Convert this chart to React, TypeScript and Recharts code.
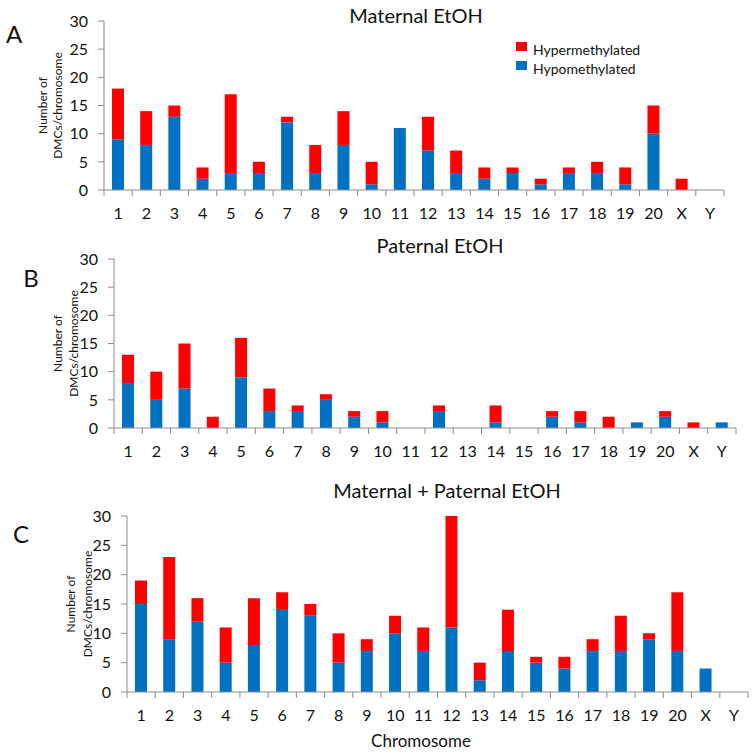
import { BarChart, Bar, XAxis, YAxis } from "recharts";

const chromosomes = ["1", "2", "3", "4", "5", "6", "7", "8", "9", "10", "11", "12", "13", "14", "15", "16", "17", "18", "19", "20", "X", "Y"];

// maternal EtOH
const maternalHypo = [9, 8, 13, 2, 3, 3, 12, 3, 8, 1, 11, 7, 3, 2, 3, 1, 3, 3, 1, 10, 0, 0];
const maternalHyper = [9, 6, 2, 2, 14, 2, 1, 5, 6, 4, 0, 6, 4, 2, 1, 1, 1, 2, 3, 5, 2, 0];

// paternal EtOH
const paternalHypo = [8, 5, 7, 0, 9, 3, 3, 5, 2, 1, 0, 3, 0, 1, 0, 2, 1, 0, 1, 2, 0, 1];
const paternalHyper = [5, 5, 8, 2, 7, 4, 1, 1, 1, 2, 0, 1, 0, 3, 0, 1, 2, 2, 0, 1, 1, 0];

// maternal + paternal EtOH
const bothHypo = [15, 9, 12, 5, 8, 14, 13, 5, 7, 10, 7, 11, 2, 7, 5, 4, 7, 7, 9, 7, 4, 0];
const bothHyper = [4, 14, 4, 6, 8, 3, 2, 5, 2, 3, 4, 19, 3, 7, 1, 2, 2, 6, 1, 10, 0, 0];

const yTicks = [0, 5, 10, 15, 20, 25, 30];

const RED = "#ff0000";
const BLUE = "#0070c0";
const AXIS = "#8c8c8c";
const FONT = "Lato, 'Open Sans', sans-serif";
const X_AXIS_H = 30;

const toRows = (hypo: number[], hyper: number[]) =>
  chromosomes.map((chr, i) => ({ chr, hypo: hypo[i], hyper: hyper[i] }));

function ChromTick(props: any) {
  const { x, y, payload, index, band } = props;
  const last = index === chromosomes.length - 1;
  return (
    <g>
      <line x1={x - band / 2} x2={x - band / 2} y1={y} y2={y + 6} stroke={AXIS} />
      {last && <line x1={x + band / 2} x2={x + band / 2} y1={y} y2={y + 6} stroke={AXIS} />}
      <text x={x} y={y + 29} textAnchor="middle" fontSize={16} fill="#111" fontFamily={FONT}>
        {payload.value}
      </text>
    </g>
  );
}

function LegendBox() {
  const items = [
    { name: "Hypermethylated", color: RED },
    { name: "Hypomethylated", color: BLUE },
  ];
  return (
    <div style={{ position: "absolute", left: 516, top: 40, fontFamily: FONT, fontSize: 14, color: "#111" }}>
      {items.map((it) => (
        <div key={it.name} style={{ display: "flex", alignItems: "center", height: 19 }}>
          <span style={{ display: "inline-block", width: 11, height: 9, background: it.color, marginRight: 6, marginTop: -6 }} />
          <span>{it.name}</span>
        </div>
      ))}
    </div>
  );
}

type PanelProps = {
  top: number;
  height: number;
  axisX: number;
  plotTop: number;
  plotBottom: number;
  right: number;
  labelOffsets: [number, number];
  rows: { chr: string; hypo: number; hyper: number }[];
};

function Panel({ top, height, axisX, plotTop, plotBottom, right, labelOffsets, rows }: PanelProps) {
  const band = (right - axisX) / chromosomes.length;
  const cy = (plotTop + plotBottom) / 2 - top;
  return (
    <div style={{ position: "absolute", left: 0, top }}>
      <BarChart
        width={754}
        height={height}
        data={rows}
        margin={{ top: plotTop - top, right: 754 - right, left: 0, bottom: height - (plotBottom - top) - X_AXIS_H }}
      >
        <XAxis
          dataKey="chr"
          interval={0}
          height={X_AXIS_H}
          tickLine={false}
          tickSize={0}
          tickMargin={0}
          stroke={AXIS}
          tick={(p: any) => <ChromTick {...p} band={band} />}
        />
        <YAxis
          width={axisX}
          domain={[0, 30]}
          ticks={yTicks}
          interval={0}
          tickSize={6}
          tickMargin={10}
          stroke={AXIS}
          tick={{ fontSize: 16, fill: "#111", fontFamily: FONT }}
          label={{
            content: () => (
              <g fontFamily={FONT} fontSize={12} fill="#111">
                <text
                  x={axisX + labelOffsets[0]}
                  y={cy}
                  textAnchor="middle"
                  dominantBaseline="central"
                  transform={`rotate(-90 ${axisX + labelOffsets[0]} ${cy})`}
                >
                  Number of
                </text>
                <text
                  x={axisX + labelOffsets[1]}
                  y={cy}
                  textAnchor="middle"
                  dominantBaseline="central"
                  transform={`rotate(-90 ${axisX + labelOffsets[1]} ${cy})`}
                >
                  DMCs/chromosome
                </text>
              </g>
            ),
          }}
        />
        <Bar dataKey="hypo" name="Hypomethylated" stackId="a" fill={BLUE} barSize={12} isAnimationActive={false} />
        <Bar dataKey="hyper" name="Hypermethylated" stackId="a" fill={RED} barSize={12} isAnimationActive={false} />
      </BarChart>
    </div>
  );
}

const titleStyle = { position: "absolute" as const, fontFamily: FONT, fontSize: 20, color: "#111", transform: "translate(-50%, -50%)", whiteSpace: "nowrap" as const };
const letterStyle = { position: "absolute" as const, fontFamily: FONT, fontSize: 24, color: "#111", transform: "translate(-50%, -50%)" };

export default function App() {
  return (
    <div style={{ position: "absolute", left: 0, top: 0, width: 754, height: 752, background: "#fff", overflow: "hidden" }}>
      <Panel
        top={0}
        height={235}
        axisX={104}
        plotTop={21}
        plotBottom={190}
        right={724}
        labelOffsets={[-62, -47]}
        rows={toRows(maternalHypo, maternalHyper)}
      />
      <Panel
        top={230}
        height={232}
        axisX={114}
        plotTop={259}
        plotBottom={428}
        right={736}
        labelOffsets={[-57, -41]}
        rows={toRows(paternalHypo, paternalHyper)}
      />
      <Panel
        top={465}
        height={287}
        axisX={127}
        plotTop={516}
        plotBottom={692}
        right={748}
        labelOffsets={[-57, -40]}
        rows={toRows(bothHypo, bothHyper)}
      />
      <LegendBox />
      <div style={{ ...titleStyle, left: 416, top: 15 }}>Maternal EtOH</div>
      <div style={{ ...titleStyle, left: 440, top: 245 }}>Paternal EtOH</div>
      <div style={{ ...titleStyle, left: 447, top: 490 }}>Maternal + Paternal EtOH</div>
      <div style={{ ...letterStyle, left: 14, top: 33 }}>A</div>
      <div style={{ ...letterStyle, left: 31, top: 277 }}>B</div>
      <div style={{ ...letterStyle, left: 21, top: 533 }}>C</div>
      <div style={{ ...titleStyle, fontSize: 17, left: 421, top: 740 }}>Chromosome</div>
    </div>
  );
}
